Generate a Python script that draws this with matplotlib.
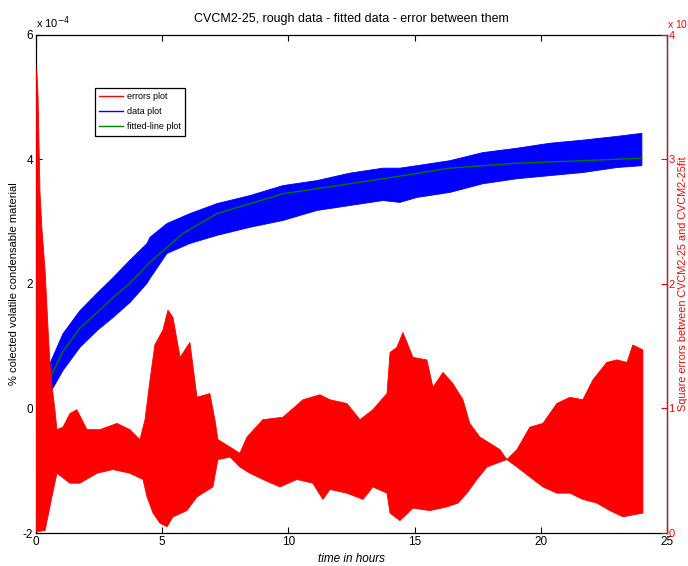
import numpy as np
import matplotlib.pyplot as plt
from matplotlib.lines import Line2D
from matplotlib.ticker import FuncFormatter

plt.rcParams['font.family'] = ['Liberation Sans', 'DejaVu Sans']

# --- data (time in hours) ---
# measured CVCM data: upper / lower edge of the noisy band (x 1e-4)
t_data = [0.55, 1.07, 1.74, 2.42, 3.05, 3.72, 4.40, 4.52, 5.19, 6.10, 7.17, 8.48,
          9.79, 11.13, 12.44, 13.75, 14.42, 15.10, 16.40, 17.71, 19.06, 20.36,
          21.67, 23.02, 24.01]
data_hi = [0.72, 1.20, 1.57, 1.85, 2.10, 2.38, 2.65, 2.75, 2.97, 3.13, 3.29, 3.42,
           3.58, 3.66, 3.78, 3.86, 3.86, 3.90, 3.98, 4.11, 4.18, 4.26, 4.31, 4.37, 4.42]
data_lo = [0.24, 0.61, 0.98, 1.25, 1.46, 1.70, 2.01, 2.09, 2.49, 2.65, 2.78, 2.91,
           3.02, 3.18, 3.26, 3.34, 3.31, 3.39, 3.47, 3.61, 3.69, 3.74, 3.79, 3.87, 3.90]

# fitted curve (x 1e-4)
t_fit = [0.55, 1.07, 1.74, 2.42, 3.05, 3.72, 4.52, 5.82, 7.17, 8.48, 9.79, 11.13,
         13.75, 16.40, 19.06, 21.67, 24.01]
fit_val = [0.48, 0.92, 1.29, 1.54, 1.78, 2.01, 2.35, 2.81, 3.13, 3.29, 3.45, 3.53,
           3.69, 3.86, 3.94, 3.98, 4.02]

# square errors: upper / lower edge of the band (x 1e-8)
t_err_hi = [0.01, 0.03, 0.08, 0.16, 0.24, 0.36, 0.48, 0.55, 0.63, 0.75, 0.83, 1.07,
            1.35, 1.62, 2.02, 2.54, 3.21, 3.72, 4.12, 4.32, 4.52, 4.71, 5.03, 5.23,
            5.43, 5.71, 6.10, 6.38, 6.89, 7.09, 7.21, 7.69, 8.08, 8.36, 8.99, 9.79,
            10.58, 11.25, 11.65, 12.32, 12.84, 13.35, 13.91, 14.03, 14.30, 14.54,
            14.94, 15.49, 15.73, 16.13, 16.52, 16.92, 17.19, 17.59, 17.99, 18.38,
            18.66, 19.06, 19.57, 20.09, 20.64, 21.16, 21.67, 22.07, 22.62, 23.02,
            23.42, 23.65, 24.05]
err_hi = [3.56, 3.73, 3.52, 2.73, 2.43, 2.11, 1.63, 1.37, 1.19, 0.99, 0.83, 0.85,
          0.96, 0.99, 0.83, 0.83, 0.88, 0.83, 0.75, 0.91, 1.23, 1.51, 1.63, 1.79,
          1.73, 1.41, 1.53, 1.09, 1.12, 0.91, 0.75, 0.69, 0.64, 0.77, 0.91, 0.93,
          1.07, 1.11, 1.07, 1.04, 0.91, 0.99, 1.12, 1.45, 1.49, 1.61,
          1.41, 1.39, 1.17, 1.29, 1.20, 1.07, 0.88, 0.77, 0.72, 0.67,
          0.59, 0.67, 0.85, 0.88, 1.04, 1.09, 1.07, 1.23, 1.37, 1.39,
          1.37, 1.51, 1.47]
t_err_lo = [0.0, 0.36, 0.48, 0.55, 0.63, 0.83, 1.35, 1.74, 2.42, 3.05, 3.72, 4.24,
            4.40, 4.64, 4.91, 5.19, 5.43, 5.98, 6.38, 7.01, 7.21, 7.69, 8.08, 8.48,
            8.99, 9.67, 10.34, 10.97, 11.37, 11.65, 12.32, 12.96, 13.35, 13.91,
            14.03, 14.42, 14.94, 15.61, 16.28, 16.72, 17.08, 17.47, 17.87, 18.26,
            18.66, 19.06, 19.57, 20.09, 20.64, 21.16, 21.67, 22.23, 22.74, 23.26, 24.05]
err_lo = [0.01, 0.02, 0.14, 0.21, 0.29, 0.48, 0.40, 0.40, 0.48, 0.51, 0.48, 0.43,
          0.29, 0.16, 0.08, 0.05, 0.13, 0.18, 0.29, 0.37, 0.59, 0.61, 0.53, 0.48,
          0.43, 0.37, 0.43, 0.40, 0.27, 0.35, 0.32, 0.27, 0.37, 0.32,
          0.16, 0.10, 0.20, 0.18, 0.21, 0.24, 0.32, 0.43, 0.53, 0.56,
          0.59, 0.53, 0.45, 0.37, 0.32, 0.32, 0.27, 0.24, 0.18, 0.13, 0.16]

x_ticks = [0, 5, 10, 15, 20, 25]
left_ticks = [-2e-4, 0, 2e-4, 4e-4, 6e-4]
right_ticks = [0, 1e-8, 2e-8, 3e-8, 4e-8]
legend_labels = ['errors plot', 'data plot', 'fitted-line plot']

fig = plt.figure(figsize=(6.88, 5.66), dpi=100)
ax = fig.add_axes([0.0523, 0.0583, 0.917, 0.880])

sc_d = 1e-4
ax.fill(np.concatenate([t_data, t_data[::-1]]),
        np.concatenate([np.array(data_hi), np.array(data_lo)[::-1]]) * sc_d,
        color='#0000ff', lw=0.6)
ax.plot(t_fit, np.array(fit_val) * sc_d, color='#007a00', lw=1.0)

ax.set_xlim(0, 25)
ax.set_ylim(-2e-4, 6e-4)
ax.set_xticks(x_ticks)
ax.set_yticks(left_ticks)
ax.yaxis.set_major_formatter(FuncFormatter(lambda v, p: f"{v / 1e-4:g}"))
ax.tick_params(direction='in', length=4, width=0.8, labelsize=8.5,
               top=True, right=False, pad=2)
for s in ax.spines.values():
    s.set_linewidth(0.9)
ax.text(0.0, 1.008, r'x 10$^{-4}$', transform=ax.transAxes, fontsize=8,
        ha='left', va='bottom')

ax.set_title('CVCM2-25, rough data - fitted data - error between them',
             fontsize=9, pad=9)
ax.set_xlabel('time in hours', fontsize=8.5, style='italic', labelpad=4)
ax.set_ylabel('% colected volatile condensable material', fontsize=8)
ax.yaxis.set_label_coords(-0.027, 0.5)

# second axis for the square errors
ax2 = ax.twinx()
sc_e = 1e-8
ax2.fill(np.concatenate([t_err_hi, t_err_lo[::-1]]),
         np.concatenate([np.array(err_hi), np.array(err_lo)[::-1]]) * sc_e,
         color='#ff0000', lw=0.6)
ax2.set_ylim(0, 4e-8)
ax2.set_yticks(right_ticks)
ax2.yaxis.set_major_formatter(FuncFormatter(lambda v, p: f"{v / 1e-8:g}"))
ax2.tick_params(direction='in', length=4, width=0.8, labelsize=8,
                colors='#ff0000', pad=1)
for k in ['left', 'top', 'bottom']:
    ax2.spines[k].set_visible(False)
ax2.spines['right'].set_color('#ff0000')
ax2.spines['right'].set_linewidth(0.9)
ax2.set_ylabel('Square errors between CVCM2-25 and CVCM2-25fit', color='#ff0000',
               fontsize=7.8, rotation=90, va='center')
ax2.yaxis.set_label_coords(1.0262, 0.5)
ax2.text(1.0, 1.008, r'x 10$^{-8}$', transform=ax2.transAxes, fontsize=7.5,
         ha='left', va='bottom', color='#ff0000')

handles = [Line2D([], [], color='#ff0000', lw=1),
           Line2D([], [], color='#0000ff', lw=1),
           Line2D([], [], color='#008000', lw=1)]
leg = ax2.legend(handles, legend_labels,
                 loc='upper left', bbox_to_anchor=(0.0935, 0.8936), borderaxespad=0,
                 fontsize=6.5, fancybox=False, framealpha=1, edgecolor='black',
                 handlelength=2.6, handletextpad=0.4, labelspacing=0.65,
                 borderpad=0.5)
leg.get_frame().set_linewidth(0.9)

fig.savefig('out.png', dpi=100)
